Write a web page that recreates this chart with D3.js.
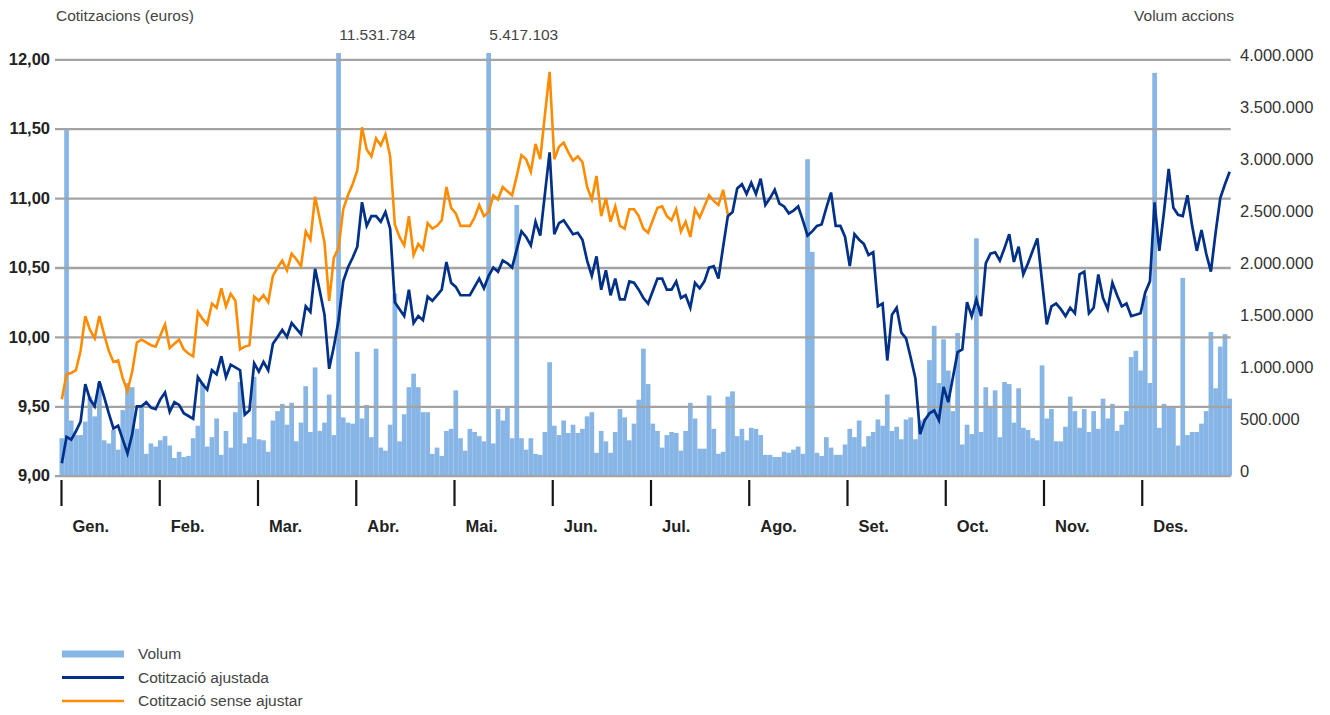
<!DOCTYPE html>
<html>
<head>
<meta charset="utf-8">
<script src="https://cdn.jsdelivr.net/npm/d3@7"></script>
<style>
  body { margin: 0; background: #fff; }
  svg { display: block; font-family: "Liberation Sans", Arial, Helvetica, sans-serif; }
</style>
</head>
<body>
<svg id="chart" width="1330" height="715"></svg>
<script>
// Month labels along the bottom
const months = ["Gen.", "Feb.", "Mar.", "Abr.", "Mai.", "Jun.", "Jul.", "Ago.", "Set.", "Oct.", "Nov.", "Des."];

// Axis tick values
const priceTicks = [9, 9.5, 10, 10.5, 11, 11.5, 12];
const volumeTicks = [0, 500000, 1000000, 1500000, 2000000, 2500000, 3000000, 3500000, 4000000];

// Daily traded volume (shares)
const volume = [
  360000, 3320000, 530000, 390000, 390000, 520000, 760000, 570000, 890000, 340000,
  310000, 440000, 250000, 630000, 890000, 850000, 450000, 650000, 210000, 310000,
  280000, 340000, 380000, 290000, 170000, 230000, 180000, 190000, 360000, 480000,
  890000, 280000, 370000, 550000, 200000, 430000, 270000, 610000, 900000, 310000,
  370000, 950000, 350000, 340000, 230000, 530000, 620000, 690000, 490000, 700000,
  330000, 510000, 860000, 420000, 1040000, 430000, 510000, 780000, 390000, 11531784,
  560000, 510000, 500000, 1190000, 550000, 680000, 370000, 1220000, 270000, 240000,
  490000, 1750000, 330000, 590000, 850000, 980000, 850000, 610000, 610000, 210000,
  270000, 190000, 430000, 450000, 820000, 360000, 240000, 450000, 420000, 380000,
  330000, 5417103, 310000, 640000, 530000, 650000, 360000, 2600000, 360000, 250000,
  360000, 210000, 200000, 420000, 1090000, 480000, 390000, 530000, 410000, 490000,
  410000, 450000, 570000, 610000, 220000, 430000, 330000, 220000, 420000, 640000,
  560000, 340000, 500000, 730000, 1220000, 880000, 500000, 430000, 270000, 390000,
  420000, 410000, 240000, 430000, 700000, 550000, 260000, 260000, 770000, 450000,
  210000, 230000, 760000, 810000, 380000, 450000, 340000, 460000, 450000, 390000,
  200000, 200000, 180000, 180000, 230000, 220000, 250000, 280000, 210000, 3040000,
  2150000, 220000, 190000, 370000, 270000, 200000, 200000, 300000, 450000, 370000,
  530000, 280000, 380000, 420000, 540000, 480000, 780000, 430000, 470000, 350000,
  540000, 560000, 350000, 530000, 550000, 1110000, 1440000, 890000, 1310000, 1010000,
  620000, 1370000, 300000, 490000, 400000, 2280000, 420000, 850000, 660000, 820000,
  370000, 900000, 880000, 510000, 840000, 460000, 440000, 360000, 340000, 1060000,
  550000, 640000, 330000, 330000, 470000, 760000, 620000, 460000, 640000, 420000,
  620000, 450000, 740000, 550000, 690000, 430000, 490000, 620000, 1140000, 1200000,
  1010000, 1730000, 890000, 3870000, 460000, 690000, 660000, 660000, 290000, 1900000,
  390000, 420000, 420000, 500000, 620000, 1380000, 840000, 1240000, 1360000, 740000
];

// Adjusted closing price (euros)
const adjusted = [
  9.09, 9.28, 9.26, 9.32, 9.39, 9.66, 9.55, 9.50, 9.68, 9.57,
  9.45, 9.34, 9.36, 9.26, 9.16, 9.30, 9.50, 9.50, 9.53, 9.49,
  9.48, 9.55, 9.60, 9.46, 9.53, 9.51, 9.45, 9.43, 9.41, 9.71,
  9.66, 9.62, 9.76, 9.73, 9.86, 9.71, 9.80, 9.78, 9.76, 9.44,
  9.47, 9.81, 9.75, 9.82, 9.76, 9.95, 10.00, 10.05, 10.00, 10.10,
  10.06, 10.02, 10.22, 10.18, 10.49, 10.33, 10.16, 9.77, 9.93, 10.12,
  10.40, 10.50, 10.57, 10.65, 10.97, 10.80, 10.87, 10.87, 10.83, 10.90,
  10.78, 10.25, 10.20, 10.15, 10.34, 10.10, 10.15, 10.12, 10.29, 10.26,
  10.30, 10.34, 10.54, 10.39, 10.36, 10.30, 10.30, 10.30, 10.36, 10.42,
  10.35, 10.44, 10.50, 10.47, 10.55, 10.53, 10.50, 10.63, 10.76, 10.72,
  10.66, 10.83, 10.73, 11.03, 11.33, 10.74, 10.82, 10.84, 10.79, 10.74,
  10.75, 10.70, 10.55, 10.44, 10.58, 10.34, 10.48, 10.30, 10.42, 10.27,
  10.27, 10.40, 10.39, 10.34, 10.28, 10.24, 10.33, 10.42, 10.42, 10.34,
  10.34, 10.40, 10.28, 10.30, 10.21, 10.39, 10.35, 10.40, 10.50, 10.51,
  10.42, 10.65, 10.87, 10.90, 11.07, 11.10, 11.03, 11.11, 11.03, 11.14,
  10.95, 11.00, 11.06, 10.96, 10.94, 10.89, 10.91, 10.94, 10.84, 10.73,
  10.76, 10.80, 10.81, 10.93, 11.04, 10.80, 10.80, 10.72, 10.51, 10.74,
  10.70, 10.67, 10.59, 10.61, 10.22, 10.24, 9.83, 10.16, 10.21, 10.03,
  9.99, 9.85, 9.70, 9.30, 9.40, 9.45, 9.47, 9.40, 9.64, 9.53,
  9.71, 9.89, 9.91, 10.25, 10.15, 10.27, 10.15, 10.53, 10.60, 10.61,
  10.55, 10.64, 10.74, 10.54, 10.65, 10.45, 10.53, 10.62, 10.71, 10.40,
  10.09, 10.22, 10.24, 10.20, 10.15, 10.21, 10.17, 10.45, 10.47, 10.17,
  10.21, 10.45, 10.28, 10.20, 10.39, 10.30, 10.22, 10.24, 10.15, 10.16,
  10.17, 10.32, 10.40, 10.97, 10.62, 10.90, 11.21, 10.93, 10.88, 10.87,
  11.02, 10.80, 10.62, 10.77, 10.60, 10.47, 10.75, 11.00, 11.10, 11.19
];

// Unadjusted closing price (euros), shown until it meets the adjusted series
const unadjusted = [
  9.55, 9.73, 9.74, 9.76, 9.90, 10.15, 10.05, 9.99, 10.15, 10.02,
  9.90, 9.82, 9.83, 9.70, 9.61, 9.75, 9.96, 9.98, 9.96, 9.94,
  9.93, 10.01, 10.09, 9.92, 9.95, 9.98, 9.91, 9.88, 9.86, 10.18,
  10.13, 10.09, 10.24, 10.21, 10.35, 10.22, 10.31, 10.26, 9.91, 9.93,
  9.94, 10.29, 10.26, 10.30, 10.25, 10.44, 10.50, 10.55, 10.48, 10.60,
  10.56, 10.51, 10.76, 10.70, 11.01, 10.85, 10.68, 10.26, 10.57, 10.64,
  10.92, 11.02, 11.10, 11.20, 11.51, 11.35, 11.30, 11.43, 11.38, 11.46,
  11.30, 10.81, 10.72, 10.66, 10.87, 10.59, 10.67, 10.63, 10.82, 10.78,
  10.80, 10.84, 11.08, 10.93, 10.89, 10.80, 10.80, 10.80, 10.86, 10.95,
  10.87, 10.90, 11.02, 10.99, 11.08, 11.05, 11.02, 11.16, 11.31, 11.28,
  11.19, 11.39, 11.28, 11.60, 11.91, 11.28, 11.37, 11.40, 11.33, 11.27,
  11.30, 11.26, 11.08, 10.99, 11.16, 10.87, 11.00, 10.83, 10.94, 10.80,
  10.78, 10.92, 10.92, 10.87, 10.78, 10.75, 10.84, 10.93, 10.94, 10.87,
  10.84, 10.92, 10.76, 10.83, 10.72, 10.92, 10.86, 10.94, 11.02, 10.98,
  10.95, 11.06, 10.88
];

const legendItems = [
  { label: "Volum", kind: "bar" },
  { label: "Cotització ajustada", kind: "adjusted" },
  { label: "Cotització sense ajustar", kind: "unadjusted" }
];

const colors = { bar: "#86b5e6", adjusted: "#003087", unadjusted: "#ff8c00", grid: "#a3a3a3", text: "#444" };

const locale = d3.formatLocale({ decimal: ",", thousands: ".", grouping: [3], currency: ["", " €"] });
const fmtPrice = locale.format(".2f");
const fmtVol = locale.format(",d");

const svg = d3.select("#chart");

// Scales
const x = d3.scaleBand().domain(d3.range(volume.length)).range([59.5, 1232]).paddingInner(0).paddingOuter(0);
const yPrice = d3.scaleLinear().domain([9, 12]).range([475.7, 59.3]);
const yVol = d3.scaleLinear().domain([0, 4000000]).range([475.7, 59.3]);
const xMonth = d3.scaleLinear().domain([0, 11]).range([61, 61 + 11 * 98.25]);
const barTop = 53; // bars beyond the scale are cut here and labelled

// Volume bars
svg.append("g")
  .selectAll("rect")
  .data(volume)
  .join("rect")
  .attr("x", (d, i) => x(i))
  .attr("width", x.bandwidth())
  .attr("y", d => Math.max(yVol(d), barTop))
  .attr("height", d => yVol(0) - Math.max(yVol(d), barTop))
  .attr("fill", colors.bar);

// Values of the bars that run off the top
svg.append("g")
  .selectAll("text")
  .data(volume.map((v, i) => ({ v, i })).filter(d => d.v > 4000000))
  .join("text")
  .attr("x", d => x(d.i) + 3)
  .attr("y", 40)
  .attr("font-size", 15.5)
  .attr("fill", colors.text)
  .text(d => fmtVol(d.v));

// Price axis with gridlines (drawn over the bars)
const gLeft = svg.append("g")
  .attr("transform", "translate(55,0)")
  .call(d3.axisLeft(yPrice).tickValues(priceTicks).tickSize(-1175.7).tickPadding(5).tickFormat(fmtPrice));
gLeft.select(".domain").remove();
gLeft.selectAll(".tick line").attr("stroke", colors.grid).attr("stroke-width", 2.3);
gLeft.selectAll(".tick text")
  .attr("font-size", 16.5).attr("font-weight", "bold").attr("fill", "#222")
  .attr("font-family", "'Liberation Sans', Arial, sans-serif");

// Volume axis on the right
const gRight = svg.append("g")
  .attr("transform", "translate(1234,0)")
  .call(d3.axisRight(yVol).tickValues(volumeTicks).tickSize(0).tickPadding(6).tickFormat(fmtVol));
gRight.select(".domain").remove();
gRight.selectAll(".tick text")
  .attr("y", -4)
  .attr("font-size", 16.5).attr("fill", "#333")
  .attr("font-family", "'Liberation Sans', Arial, sans-serif");

// Price lines
const line = d3.line()
  .x((d, i) => x(i) + x.bandwidth() / 2)
  .y(d => yPrice(d));

svg.append("path")
  .datum(unadjusted)
  .attr("d", line)
  .attr("fill", "none")
  .attr("stroke", colors.unadjusted)
  .attr("stroke-width", 2.6);

svg.append("path")
  .datum(adjusted)
  .attr("d", line)
  .attr("fill", "none")
  .attr("stroke", colors.adjusted)
  .attr("stroke-width", 2.7);

// Month axis
const gMonth = svg.append("g")
  .attr("transform", "translate(0,480)")
  .call(d3.axisBottom(xMonth).tickValues(d3.range(12)).tickSize(26).tickFormat(i => months[i]));
gMonth.select(".domain").remove();
gMonth.selectAll(".tick line").attr("stroke", "#151515").attr("stroke-width", 2.2);
gMonth.selectAll(".tick text")
  .attr("x", 11).attr("y", 52).attr("dy", 0)
  .attr("text-anchor", "start")
  .attr("font-size", 16.5).attr("font-weight", "bold").attr("fill", "#222")
  .attr("font-family", "'Liberation Sans', Arial, sans-serif");

// Axis titles
svg.append("text")
  .attr("x", 56).attr("y", 21)
  .attr("font-size", 15.5).attr("fill", colors.text)
  .text("Cotitzacions (euros)");
svg.append("text")
  .attr("x", 1234).attr("y", 21)
  .attr("text-anchor", "end")
  .attr("font-size", 15.5).attr("fill", colors.text)
  .text("Volum accions");

// Legend
const legend = svg.append("g").attr("transform", "translate(62,654)");
const rows = legend.selectAll("g")
  .data(legendItems)
  .join("g")
  .attr("transform", (d, i) => `translate(0,${i * 23.5})`);
rows.each(function (d) {
  const g = d3.select(this);
  if (d.kind === "bar") {
    g.append("rect").attr("x", 0).attr("y", -3.5).attr("width", 62).attr("height", 7).attr("fill", colors.bar);
  } else {
    g.append("line").attr("x1", 0).attr("x2", 62).attr("y1", 0).attr("y2", 0)
      .attr("stroke", colors[d.kind]).attr("stroke-width", d.kind === "adjusted" ? 3 : 2.6);
  }
  g.append("text")
    .attr("x", 76).attr("y", 0).attr("dy", "0.35em")
    .attr("font-size", 15.5).attr("fill", colors.text)
    .text(d.label);
});
</script>
</body>
</html>
